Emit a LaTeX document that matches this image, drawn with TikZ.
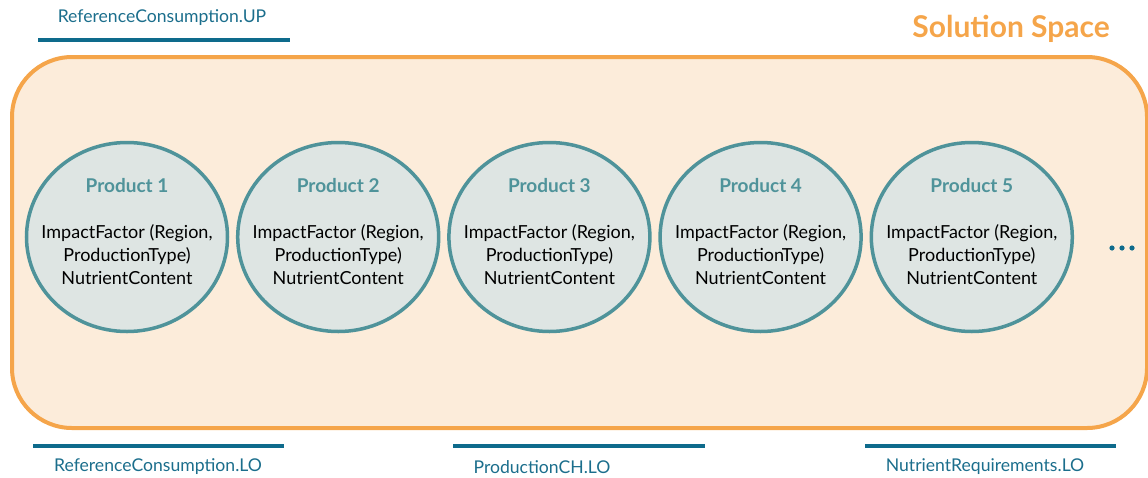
\documentclass[tikz,border=0pt]{standalone}
\usepackage{fontspec}
\setmainfont{Lato}
\usetikzlibrary{positioning}
\usetikzlibrary{shapes.geometric}
\definecolor{spaceorange}{HTML}{F5A54A}
\definecolor{spacefill}{HTML}{FCECDA}
\definecolor{prodteal}{HTML}{4F939A}
\definecolor{prodfill}{HTML}{DEE5E3}
\definecolor{limitblue}{HTML}{0E6B8C}
\definecolor{labelblue}{HTML}{1B6E8C}
\tikzstyle{product} = [ellipse, draw=prodteal, line width=3.5pt, fill=prodfill, minimum width=201pt, minimum height=189pt, inner sep=0pt]
\tikzstyle{prodtitle} = [text=prodteal, font=\bfseries\fontsize{19}{22}\selectfont, inner sep=0pt]
\tikzstyle{prodbody} = [align=center, font=\fontsize{18}{23}\selectfont, inner sep=0pt]
\tikzstyle{limitbar} = [limitblue, line width=4.5pt]
\tikzstyle{limitlabel} = [text=labelblue, font=\fontsize{17.6}{20}\selectfont, inner sep=0pt]

\begin{document}
\begin{tikzpicture}[x=1pt, y=-1pt]
      \useasboundingbox (0,0) rectangle (1148,477);
      \clip (0,0) rectangle (1148,477);
      % solution space
      \draw [spaceorange, line width=4pt, fill=spacefill, rounded corners=60pt] (12,57) rectangle (1147,428);
      \node [anchor=east, text=spaceorange, font=\bfseries\fontsize{30}{32}\selectfont, inner sep=0pt] (space) at (1110,29) {Solution Space};
      % products
      \foreach \i in {1,...,5} {
        \node [product] (prod\i) at ({127+(\i-1)*211.2},237) {};
        \node [prodtitle] (title\i) at ([yshift=51pt]prod\i.center) {Product \i};
        \node [prodbody] (body\i) at ([yshift=-18pt]prod\i.center) {ImpactFactor (Region,\\ProductionType)\\NutrientContent};
      }
      \foreach \x in {1112,1122,1132}
        \fill [limitblue] (\x,248) circle (2.6pt);
      % limits
      \coordinate (upL) at (38,40);
      \coordinate (upR) at (290,40);
      \draw [limitbar] (upL) -- (upR);
      \node [limitlabel] (uplabel) at (162,18) {ReferenceConsumption.UP};
      \coordinate (refL) at (33,446);
      \coordinate (refR) at (284,446);
      \draw [limitbar] (refL) -- (refR);
      \node [limitlabel] (reflabel) at (158,467) {ReferenceConsumption.LO};
      \coordinate (chL) at (453,446);
      \coordinate (chR) at (705,446);
      \draw [limitbar] (chL) -- (chR);
      \node [limitlabel] (chlabel) at (542,467) {ProductionCH.LO};
      \coordinate (nutL) at (865,446);
      \coordinate (nutR) at (1116,446);
      \draw [limitbar] (nutL) -- (nutR);
      \node [limitlabel] (nutlabel) at (985,467) {NutrientRequirements.LO};
\end{tikzpicture}
\end{document}
